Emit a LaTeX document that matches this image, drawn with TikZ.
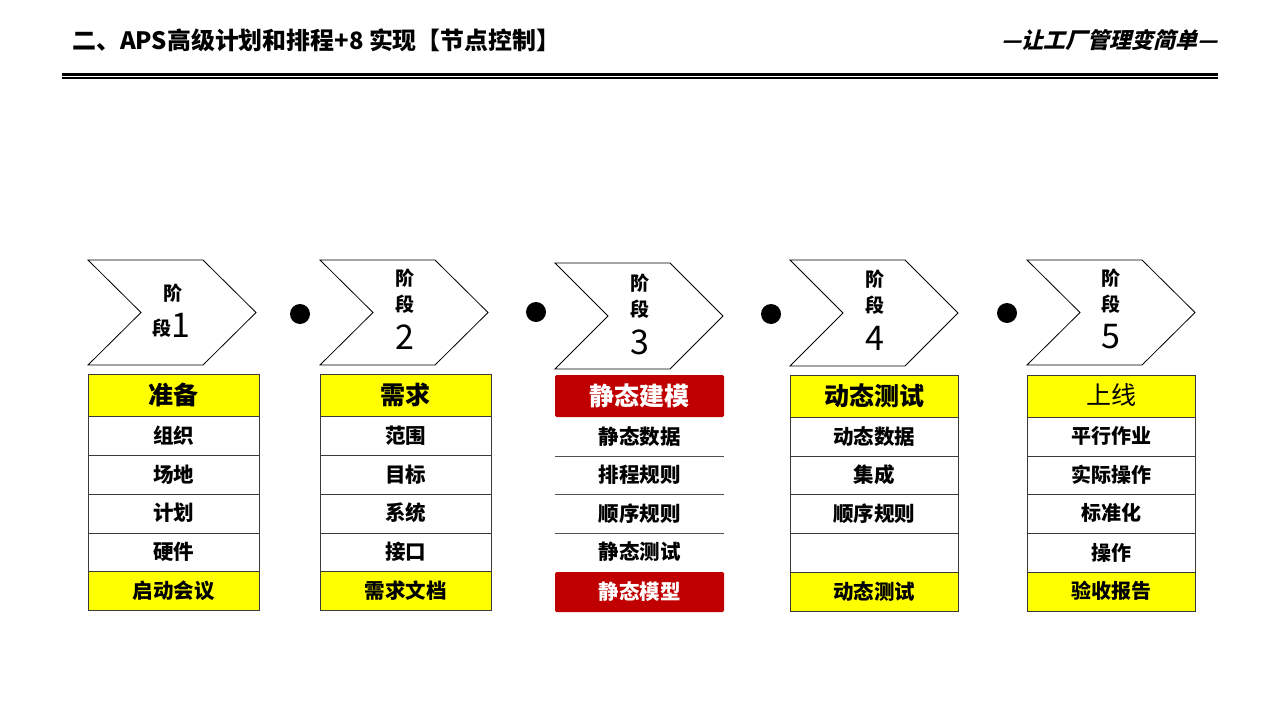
\documentclass[tikz,border=0pt]{standalone}
\usepackage{fontspec}
\setmainfont{Noto Sans CJK SC}
\newfontfamily\slogan{Noto Sans CJK SC}[FakeSlant=0.25]
\definecolor{hdryellow}{HTML}{FFFF00}
\definecolor{hdrred}{HTML}{C00000}
\definecolor{cellline}{HTML}{3A3A3A}
\definecolor{sepgray}{HTML}{505050}
\begin{document}
\begin{tikzpicture}[x=1pt,y=-1pt,
  chev/.style={draw=black,line width=0.8pt,fill=white,line join=miter},
  chtxt/.style={font=\bfseries\fontsize{19}{19}\selectfont,inner sep=0pt},
  chnum/.style={font=\fontsize{34}{34}\selectfont,inner sep=0pt},
  dotnode/.style={circle,fill=black,minimum size=20pt,inner sep=0pt},
  cell/.style={draw=cellline,line width=0.9pt,fill=white,minimum width=#1,anchor=north west,inner sep=0pt,outer sep=0pt,font=\bfseries\fontsize{20.5}{20.5}\selectfont},
  cell/.default=171pt,
  hdrtxt/.style={font=\bfseries\fontsize{25}{25}\selectfont},
  plain/.style={minimum width=169pt,anchor=north west,inner sep=0pt,outer sep=0pt,font=\bfseries\fontsize{20.5}{20.5}\selectfont},
  sep/.style={draw=sepgray,line width=1pt}
]
\useasboundingbox (0,0) rectangle (1280,720);
\fill[white] (0,0) rectangle (1280,720);

% header
\node[anchor=west,inner sep=0pt,font=\bfseries\fontsize{23.9}{23.9}\selectfont] (title) at (72,40) {二、APS高级计划和排程+8 实现【节点控制】};
\node[anchor=east,inner sep=0pt,font=\slogan\bfseries\fontsize{22}{22}\selectfont] (slogan) at (1218,40) {—让工厂管理变简单—};
\coordinate (hl1) at (62,74.5);
\coordinate (hr1) at (1218,74.5);
\coordinate (hl2) at (62,78);
\coordinate (hr2) at (1218,78);
\draw[line width=2.2pt] (hl1) -- (hr1);
\draw[line width=1.1pt] (hl2) -- (hr2);

% chevrons
\foreach \L/\T/\B in {88/260/365, 320/260/365, 555/263/369, 790/260/366, 1027/260/365}{
  \draw[chev] (\L,\T) -- ({\L+115},\T) -- ({\L+168},{(\T+\B)/2}) -- ({\L+115},\B) -- (\L,\B) -- ({\L+53},{(\T+\B)/2}) -- cycle;
}
% stage 1 text
\node[chtxt] (s1a) at (173,293) {阶};
\node[chtxt] (s1b) at (162,328) {段};
\node[chnum,anchor=west] (s1n) at (171,325) {1};
% stage 2..5 text
\node[chtxt] (s2a) at (405,278) {阶};
\node[chtxt] (s2b) at (405,304) {段};
\node[chnum] (s2n) at (405,337) {2};
\node[chtxt] (s3a) at (640,283) {阶};
\node[chtxt] (s3b) at (640,309) {段};
\node[chnum] (s3n) at (640,342) {3};
\node[chtxt] (s4a) at (875,279) {阶};
\node[chtxt] (s4b) at (875,305) {段};
\node[chnum] (s4n) at (875,338) {4};
\node[chtxt] (s5a) at (1111,278) {阶};
\node[chtxt] (s5b) at (1111,304) {段};
\node[chnum] (s5n) at (1111,337) {5};

% dots
\node[dotnode] (d1) at (300,314) {};
\node[dotnode] (d2) at (536,312) {};
\node[dotnode] (d3) at (771,314) {};
\node[dotnode] (d4) at (1007,313) {};

% column 1
\node[cell,fill=hdryellow,minimum height=42pt,hdrtxt] (c1h) at (88,374) {\raisebox{2pt}{准备}};
\node[cell,minimum height=39pt] (c1a) at (c1h.south west) {\raisebox{2pt}{组织}};
\node[cell,minimum height=39pt] (c1b) at (c1a.south west) {\raisebox{2pt}{场地}};
\node[cell,minimum height=39pt] (c1c) at (c1b.south west) {\raisebox{3pt}{计划}};
\node[cell,minimum height=38pt] (c1d) at (c1c.south west) {硬件};
\node[cell,fill=hdryellow,minimum height=39pt] (c1f) at (c1d.south west) {启动会议};

% column 2
\node[cell,fill=hdryellow,minimum height=42pt,hdrtxt] (c2h) at (320,374) {\raisebox{2pt}{需求}};
\node[cell,minimum height=39pt] (c2a) at (c2h.south west) {\raisebox{2pt}{范围}};
\node[cell,minimum height=39pt] (c2b) at (c2a.south west) {\raisebox{2pt}{目标}};
\node[cell,minimum height=39pt] (c2c) at (c2b.south west) {\raisebox{3pt}{系统}};
\node[cell,minimum height=38pt] (c2d) at (c2c.south west) {接口};
\node[cell,fill=hdryellow,minimum height=39pt] (c2f) at (c2d.south west) {需求文档};

% column 3
\node[plain,fill=hdrred,rounded corners=1.5pt,minimum height=42pt,text=white,hdrtxt] (c3h) at (555,375) {静态建模};
\node[plain,minimum height=39pt] (c3a) at (c3h.south west) {静态数据};
\node[plain,minimum height=38pt] (c3b) at (c3a.south west) {排程规则};
\node[plain,minimum height=39pt] (c3c) at (c3b.south west) {顺序规则};
\node[plain,minimum height=39pt] (c3d) at (c3c.south west) {\raisebox{3pt}{静态测试}};
\node[plain,fill=hdrred,rounded corners=1.5pt,minimum height=40pt,text=white] (c3f) at (c3d.south west) {静态模型};
\draw[sep] (c3a.south west) -- (c3a.south east);
\draw[sep] (c3b.south west) -- (c3b.south east);
\draw[sep] (c3c.south west) -- (c3c.south east);

% column 4
\node[cell=168pt,fill=hdryellow,minimum height=42pt,hdrtxt] (c4h) at (790,375) {动态测试};
\node[cell=168pt,minimum height=39pt] (c4a) at (c4h.south west) {动态数据};
\node[cell=168pt,minimum height=38pt] (c4b) at (c4a.south west) {集成};
\node[cell=168pt,minimum height=39pt] (c4c) at (c4b.south west) {\raisebox{-1pt}{顺序规则}};
\node[cell=168pt,minimum height=39pt] (c4d) at (c4c.south west) {};
\node[cell=168pt,fill=hdryellow,minimum height=39pt] (c4f) at (c4d.south west) {动态测试};

% column 5
\node[cell=168pt,fill=hdryellow,minimum height=42pt,font=\fontsize{25}{25}\selectfont] (c5h) at (1027,375) {\raisebox{4pt}{上线}};
\node[cell=168pt,minimum height=39pt,font=\bfseries\fontsize{20}{20}\selectfont] (c5a) at (c5h.south west) {\raisebox{4pt}{平行作业}};
\node[cell=168pt,minimum height=38pt,font=\bfseries\fontsize{20}{20}\selectfont] (c5b) at (c5a.south west) {\raisebox{3pt}{实际操作}};
\node[cell=168pt,minimum height=39pt,font=\bfseries\fontsize{20}{20}\selectfont] (c5c) at (c5b.south west) {\raisebox{4pt}{标准化}};
\node[cell=168pt,minimum height=39pt,font=\bfseries\fontsize{20}{20}\selectfont] (c5d) at (c5c.south west) {\raisebox{-1pt}{操作}};
\node[cell=168pt,fill=hdryellow,minimum height=39pt,font=\bfseries\fontsize{20}{20}\selectfont] (c5f) at (c5d.south west) {\raisebox{3pt}{验收报告}};
\end{tikzpicture}
\end{document}
